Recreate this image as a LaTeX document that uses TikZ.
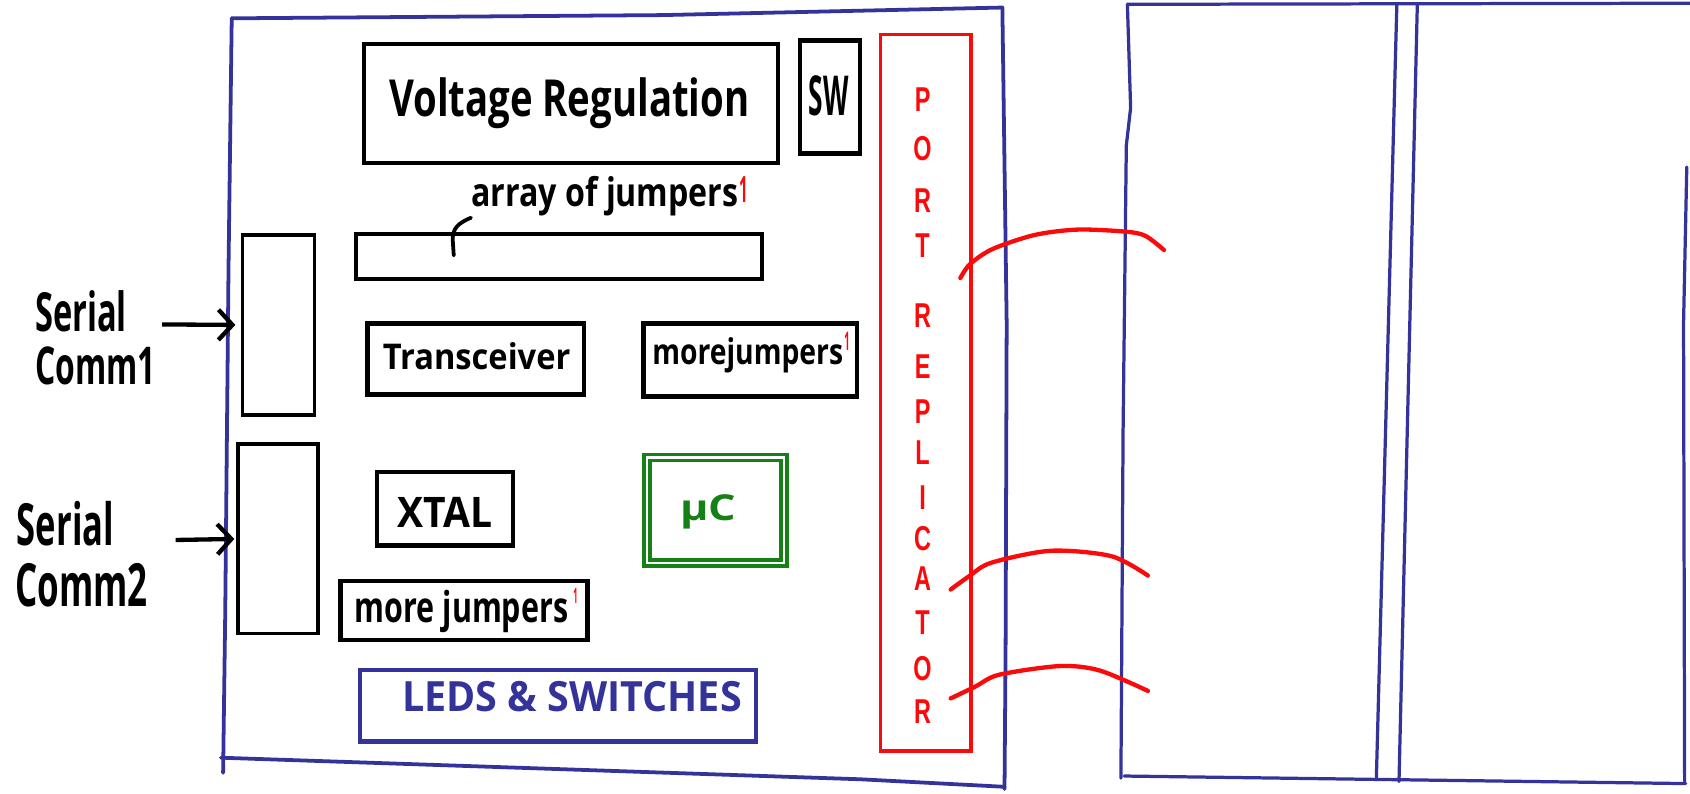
\documentclass[tikz,border=0pt]{standalone}
\usepackage{fontspec}
\setmainfont{Open Sans}
\newfontfamily\prfont{Liberation Sans}
\usetikzlibrary{arrows.meta}
\definecolor{pblue}{RGB}{51,51,153}
\definecolor{pred}{RGB}{250,10,10}
\definecolor{pgreen}{RGB}{22,128,22}
\newcommand{\hwt}[3]{\resizebox{#1pt}{#2pt}{\bfseries #3}}
\newcommand{\hwl}[1]{\scalebox{0.68}[1]{\prfont\fontsize{32}{32}\selectfont\bfseries #1}}
\tikzset{
  blkbox/.style={draw=black, line width=4pt, rectangle, inner sep=0pt},
  sbox/.style={draw=black, line width=3.2pt, rectangle, inner sep=0pt},
  txtn/.style={inner sep=0pt, anchor=base west},
  mainfrm/.style={draw=pblue, line width=3.5pt, line join=round, line cap=round},
  panelln/.style={draw=pblue, line width=3pt, line join=round, line cap=round},
  wireln/.style={draw=pred, line width=4pt, line cap=round},
  arrln/.style={draw=black, line width=4pt, -{Straight Barb[length=13pt,width=28pt]}},
  leaderln/.style={draw=black, line width=3.5pt, line cap=round},
  redbox/.style={draw=pred, line width=3.5pt, rectangle, inner sep=0pt},
  ledbox/.style={draw=pblue, line width=3.8pt, rectangle, inner sep=0pt},
  mcbox/.style={draw=pgreen, double=white, double distance=2pt, line width=3.5pt, rectangle, inner sep=0pt},
}
\begin{document}
\begin{tikzpicture}[x=1pt,y=-1pt]
\path[use as bounding box] (0,0) rectangle (1568,736);

% main board frame
\draw[mainfrm] (215,17) -- (615,14) -- (930,7) -- (934,300) -- (933,600) -- (932,732);
\draw[mainfrm] (205,703) -- (798,723) -- (932,730);
\draw[mainfrm] (207,717) -- (209,566) -- (212,250) -- (215,17);

% right panel
\draw[panelln] (1046,4) -- (1568,3);
\draw[panelln] (1046,4) -- (1049,100) -- (1045,135) -- (1042,400) -- (1040,722);
\draw[panelln] (1043,720) -- (1564,727);
\draw[panelln] (1296,4) -- (1277,722);
\draw[panelln] (1315,4) -- (1298,725);
\draw[panelln] (1565,155) -- (1562,300) -- (1563,725);

% boxes
\node[blkbox, minimum width=384pt, minimum height=110pt] (vr) at (530,96) {};
\node[blkbox, minimum width=56pt, minimum height=105pt] (sw) at (770,90) {};
\node[blkbox, minimum width=377pt, minimum height=42pt] (arr) at (518.5,238) {};
\node[sbox, minimum width=67pt, minimum height=167pt] (c1box) at (258.5,301.5) {};
\node[sbox, minimum width=74pt, minimum height=176pt] (c2box) at (258,500) {};
\node[blkbox, minimum width=201pt, minimum height=66pt] (trans) at (441.5,333) {};
\node[blkbox, minimum width=198pt, minimum height=68pt] (mj) at (696,334) {};
\node[blkbox, minimum width=126pt, minimum height=68pt] (xtal) at (413,472) {};
\node[mcbox, minimum width=127pt, minimum height=98pt] (mc) at (664,473.5) {};
\node[blkbox, minimum width=229pt, minimum height=55pt] (mj2) at (430.5,566.5) {};
\node[ledbox, minimum width=367pt, minimum height=66pt] (leds) at (517.5,655) {};
\node[redbox, minimum width=84pt, minimum height=665pt] (prep) at (859,364.5) {};

% texts
\node[txtn] (vrtext) at (361,108) {\hwt{334}{36}{Voltage Regulation}};
\node[txtn] (swtext) at (750,107) {\hwt{37}{37}{SW}};
\node[txtn] (ajtext) at (437,192) {\hwt{248}{28}{array of jumpers}};
\node[inner sep=0pt, text=pred] (ajsup) at (690,176) {\hwt{8}{24}{1}};
\node[txtn] (trtext) at (355,343) {\hwt{174}{25}{Transceiver}};
\node[txtn] (mjtext) at (605,338) {\hwt{177}{25}{morejumpers}};
\node[inner sep=0pt, text=pred] (mjsup) at (786,316.5) {\hwt{5}{17}{1}};
\node[txtn] (xttext) at (369,489) {\hwt{88}{28}{XTAL}};
\node[txtn, text=pgreen] (mctext) at (631,483) {\hwt{52}{24}{μC}};
\node[txtn] (mj2text) at (329,578) {\hwt{198}{30}{more jumpers}};
\node[inner sep=0pt, text=pred] (mj2sup) at (534,553) {\hwt{4}{14}{1}};
\node[txtn, text=pblue] (ledtext) at (373,660) {\hwt{315}{28}{LEDS \& SWITCHES}};

\node[txtn] (s1a) at (32.5,308) {\hwt{85}{38}{Serial}};
\node[txtn] (s1b) at (32.5,357) {\hwt{112}{35}{Comm1}};
\node[txtn] (s2a) at (15.5,506) {\hwt{90}{41}{Serial}};
\node[txtn] (s2b) at (14,563) {\hwt{123}{40}{Comm2}};

\foreach \l/\yy [count=\i] in {P/92,O/138,R/186,T/228,R/293,E/340,P/382,L/420,I/462,C/500,A/537,T/578,O/620,R/660}
  \node[inner sep=0pt, text=pred] (pr\i) at (856,\yy) {\hwl{\l}};

% arrows
\coordinate (a1s) at ([shift={(32.5,-7)}]s1a.base east);
\coordinate (a2s) at ([shift={(57,-5)}]s2a.base east);
\draw[arrln, shorten >=5pt] (a1s) -- (c1box.west);
\draw[arrln, shorten >=2pt] (a2s) -- (c2box.west);

% leader
\coordinate (ajend) at (421,237);
\draw[leaderln] ([shift={(0,10)}]ajtext.base west) .. controls (425,207) and (420,212) .. (420,222) -- (ajend);

% wires
\draw[wireln] plot[smooth] coordinates {(891,258) (900,245) (921,231) (960,218) (1000,213) (1045,215) (1063,219) (1080,232)};
\draw[wireln] plot[smooth] coordinates {(882,547) (900,534) (920,522) (975,511) (1031,516) (1065,534)};
\draw[wireln] plot[smooth] coordinates {(882,648) (905,637) (927,626) (983,618) (1020,622) (1065,641)};
\end{tikzpicture}
\end{document}
